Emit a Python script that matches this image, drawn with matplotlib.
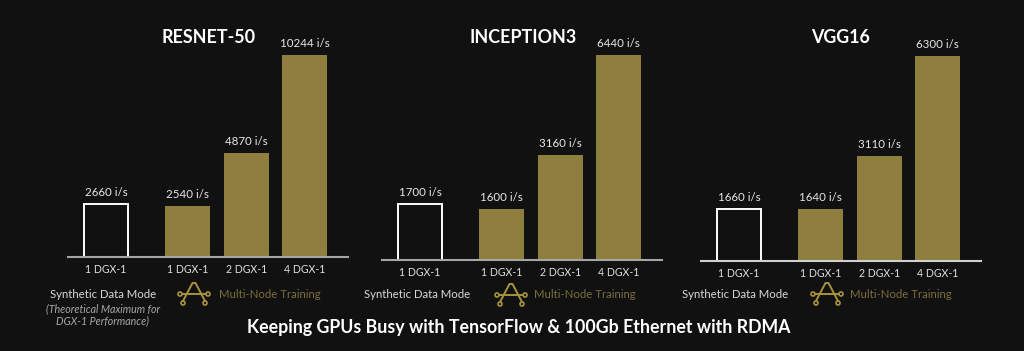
import matplotlib
matplotlib.use('Agg')
import matplotlib.pyplot as plt
from matplotlib.patches import Circle

W, H = 1024, 351
BG = '#111112'
GOLD = '#8f7f3e'
GOLD_TEXT = '#7a6d3c'

titles = ['RESNET-50', 'INCEPTION3', 'VGG16']
categories = ['1 DGX-1', '1 DGX-1', '2 DGX-1', '4 DGX-1']

# printed numbers
resnet_labels = [2660, 2540, 4870, 10244]
inception_labels = [1700, 1600, 3160, 6440]
vgg_labels = [1660, 1640, 3110, 6300]

# bars are not quite to scale in the picture, so heights are read separately
resnet_heights = [2690, 2590, 5270, 10244]
inception_heights = [1760, 1600, 3300, 6440]
vgg_heights = [1600, 1600, 3230, 6300]

fig = plt.figure(figsize=(W / 100, H / 100), dpi=100, facecolor=BG)
plt.rcParams['font.family'] = ['Lato', 'DejaVu Sans']

xpos = [0, 1.4, 2.4, 3.4]


def ftext(x, y, s, **kw):
    # place text by pixel position, y measured from the top
    fig.text(x / W, 1 - y / H, s, ha=kw.pop('ha', 'center'), va='center', **kw)


def draw_panel(left, baseline, top, labels, heights, line_color):
    ax = fig.add_axes([left / W, 1 - baseline / H, 280 / W, (baseline - top) / H])
    ax.set_facecolor('none')
    ax.set_xlim(-0.65, 4.14)
    ax.set_ylim(0, heights[-1])
    ax.bar(xpos[0], heights[0], width=0.75, facecolor='none', edgecolor='white', linewidth=1.4)
    ax.bar(xpos[1:], heights[1:], width=0.77, color=GOLD)
    for x, h, v in zip(xpos, heights, labels):
        ax.annotate(f'{v} i/s', (x, h), xytext=(0, 4.2), textcoords='offset points', ha='center',
                    va='bottom', color='#e8e8e8', fontsize=8.3, annotation_clip=False)
    for s in ['top', 'left', 'right']:
        ax.spines[s].set_visible(False)
    ax.spines['bottom'].set_color(line_color)
    ax.spines['bottom'].set_linewidth(1.5)
    ax.set_yticks([])
    ax.set_xticks(xpos)
    ax.set_xticklabels(categories, color='#e0e0e0', fontsize=7.6)
    ax.tick_params(axis='x', length=0, pad=5)
    return ax


panels = [
    (68, 257, 55, resnet_labels, resnet_heights, '#a5a5a5'),
    (382, 260, 55, inception_labels, inception_heights, '#a5a5a5'),
    (701, 261, 56, vgg_labels, vgg_heights, '#d0d0d0'),
]
for p in panels:
    draw_panel(*p)

for x, t in zip([208.5, 523, 841], titles):
    ftext(x, 37.5, t, color='white', fontsize=12.9, fontweight='bold')

# overlay in pixel coordinates for the little network icon
ov = fig.add_axes([0, 0, 1, 1])
ov.set_xlim(0, W)
ov.set_ylim(H, 0)
ov.axis('off')
ov.patch.set_alpha(0)


def icon(cx, cy):
    c = '#a8923e'
    ov.plot([cx - 11, cx - 1.5, cx + 1.5, cx + 11], [cy + 18, cy, cy, cy + 18], color=c, lw=1.4)
    ov.plot([cx - 12, cx + 12], [cy + 11, cy + 11], color=c, lw=1.4)
    for dx, dy in [(-14, 11), (14, 11), (-11, 20), (11, 20)]:
        ov.add_patch(Circle((cx + dx, cy + dy), 2, facecolor='none', edgecolor=c, lw=1.2))


for cx, cy in [(194, 283), (511, 284), (827, 283)]:
    icon(cx, cy)

for x, y in [(103, 295), (417, 295), (735, 295)]:
    ftext(x, y, 'Synthetic Data Mode', color='#d8d8d8', fontsize=8.2)
for x, y in [(219, 294), (534, 295), (850, 294)]:
    ftext(x, y, 'Multi-Node Training', color=GOLD_TEXT, fontsize=8.2, ha='left')

ftext(103, 309, '(Theoretical Maximum for', color='#a8a8a8', fontsize=7.7, style='italic')
ftext(103, 321, 'DGX-1 Performance)', color='#a8a8a8', fontsize=7.7, style='italic')

ftext(519, 327, 'Keeping GPUs Busy with TensorFlow & 100Gb Ethernet with RDMA',
      color='white', fontsize=12.8, fontweight='bold')

fig.savefig('out.png', dpi=100, facecolor=BG)
